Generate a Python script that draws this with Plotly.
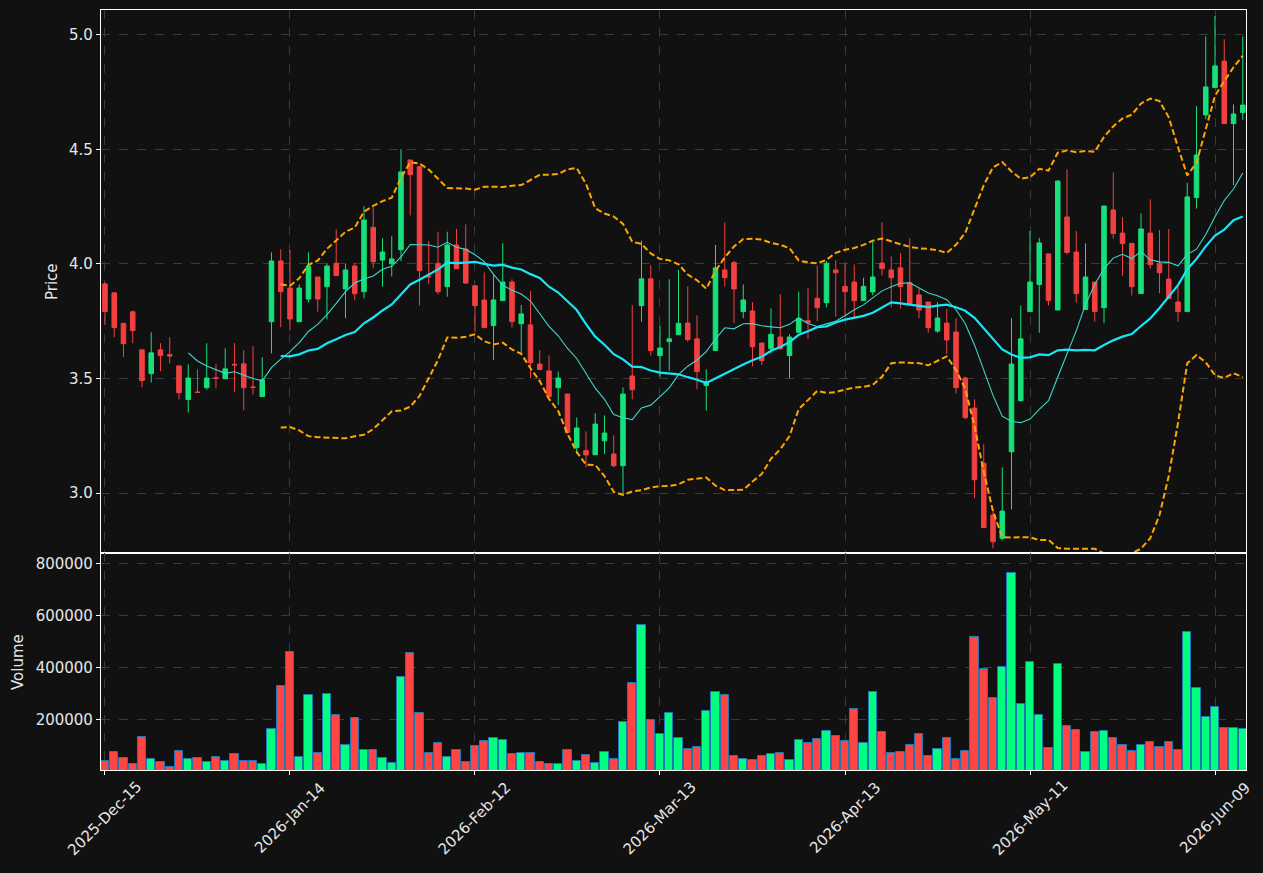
import pandas as pd
import plotly.graph_objects as go

# ---- data ----
opens = [3.913, 3.874, 3.741, 3.791, 3.625, 3.521, 3.625, 3.604, 3.555, 3.408,
         3.441, 3.460, 3.503, 3.499, 3.562, 3.564, 3.463, 3.421, 3.748, 4.013,
         3.895, 3.748, 3.847, 3.943, 3.901, 4.003, 3.891, 3.991, 3.879, 4.160,
         4.017, 4.001, 4.062, 4.454, 4.425, 3.947, 4.003, 3.901, 4.083, 4.065,
         3.905, 3.843, 3.731, 3.840, 3.921, 3.739, 3.734, 3.563, 3.533, 3.460,
         3.432, 3.199, 3.185, 3.167, 3.228, 3.170, 3.119, 3.511, 3.818, 3.935,
         3.600, 3.661, 3.691, 3.742, 3.673, 3.469, 3.622, 3.974, 4.006, 3.792,
         3.795, 3.655, 3.630, 3.681, 3.600, 3.702, 3.752, 3.850, 3.831, 3.974,
         3.902, 3.921, 3.840, 3.878, 4.004, 3.974, 3.983, 3.918, 3.865, 3.834,
         3.707, 3.742, 3.703, 3.502, 3.371, 3.130, 2.904, 2.802, 3.180, 3.403,
         3.792, 3.910, 4.044, 3.799, 4.205, 4.052, 3.801, 3.921, 3.809, 4.236,
         4.135, 4.090, 3.871, 4.135, 4.003, 3.934, 3.834, 3.792, 4.290, 4.651,
         4.770, 4.886, 4.613, 4.661]
highs = [3.919, 3.875, 3.741, 3.796, 3.625, 3.702, 3.654, 3.680, 3.555, 3.562,
         3.540, 3.654, 3.562, 3.632, 3.654, 3.623, 3.641, 3.593, 4.051, 4.064,
         4.061, 3.911, 4.051, 3.943, 4.003, 4.151, 4.003, 4.003, 4.252, 4.247,
         4.112, 4.121, 4.501, 4.454, 4.430, 4.100, 4.141, 4.141, 4.153, 4.173,
         3.905, 3.963, 3.952, 4.090, 3.933, 3.821, 3.882, 3.623, 3.601, 3.530,
         3.432, 3.330, 3.269, 3.349, 3.339, 3.252, 3.461, 3.820, 4.102, 3.994,
         3.731, 3.933, 3.974, 3.902, 3.776, 3.540, 4.083, 4.182, 4.013, 3.911,
         3.833, 3.655, 3.806, 3.868, 3.693, 3.879, 3.894, 3.991, 4.013, 4.017,
         4.003, 3.998, 3.940, 4.105, 4.182, 4.033, 4.047, 4.112, 3.897, 3.834,
         3.833, 3.804, 3.763, 3.508, 3.409, 3.213, 2.926, 3.112, 3.763, 3.819,
         4.144, 4.114, 4.044, 4.365, 4.413, 4.144, 4.090, 3.921, 4.253, 4.400,
         4.204, 4.090, 4.221, 4.282, 4.148, 4.153, 3.904, 4.354, 4.689, 4.994,
         5.083, 4.981, 4.697, 4.994]
lows = [3.734, 3.680, 3.593, 3.654, 3.462, 3.483, 3.532, 3.566, 3.409, 3.352,
        3.438, 3.451, 3.457, 3.499, 3.440, 3.361, 3.430, 3.421, 3.610, 3.724,
        3.709, 3.748, 3.832, 3.792, 3.758, 3.949, 3.763, 3.841, 3.850, 3.981,
        3.901, 3.945, 4.013, 4.212, 3.819, 3.911, 3.867, 3.857, 3.979, 3.913,
        3.704, 3.722, 3.581, 3.840, 3.723, 3.603, 3.501, 3.539, 3.421, 3.384,
        3.258, 3.170, 3.112, 3.167, 3.170, 3.112, 2.991, 3.409, 3.748, 3.600,
        3.508, 3.534, 3.691, 3.661, 3.453, 3.360, 3.622, 3.902, 3.741, 3.763,
        3.553, 3.559, 3.610, 3.625, 3.501, 3.702, 3.672, 3.750, 3.811, 3.770,
        3.777, 3.763, 3.840, 3.863, 3.950, 3.811, 3.805, 3.825, 3.763, 3.700,
        3.700, 3.607, 3.435, 3.322, 2.977, 2.849, 2.758, 2.792, 2.929, 3.399,
        3.792, 3.700, 3.818, 3.799, 4.042, 3.831, 3.801, 3.748, 3.741, 4.111,
        3.949, 3.862, 3.871, 3.980, 3.872, 3.849, 3.748, 3.792, 4.242, 4.632,
        4.770, 4.613, 4.345, 4.629]
closes = [3.792, 3.722, 3.652, 3.709, 3.491, 3.612, 3.600, 3.598, 3.438, 3.502,
          3.439, 3.502, 3.500, 3.542, 3.559, 3.460, 3.461, 3.494, 4.013, 3.879,
          3.760, 3.895, 3.991, 3.847, 3.991, 3.949, 3.974, 3.870, 4.192, 4.010,
          4.052, 4.022, 4.402, 4.390, 3.971, 3.944, 3.879, 4.083, 3.979, 3.917,
          3.818, 3.722, 3.843, 3.921, 3.748, 3.782, 3.569, 3.539, 3.421, 3.502,
          3.264, 3.284, 3.166, 3.301, 3.262, 3.119, 3.432, 3.451, 3.935, 3.622,
          3.633, 3.673, 3.741, 3.670, 3.530, 3.486, 3.983, 3.940, 3.891, 3.843,
          3.639, 3.578, 3.693, 3.630, 3.681, 3.763, 3.745, 3.809, 4.003, 3.962,
          3.879, 3.840, 3.902, 3.943, 3.980, 3.940, 3.901, 3.825, 3.799, 3.722,
          3.764, 3.668, 3.460, 3.329, 3.058, 2.849, 2.787, 2.921, 3.563, 3.673,
          3.921, 4.092, 3.840, 4.362, 4.050, 3.871, 3.943, 3.792, 4.253, 4.133,
          4.089, 3.901, 4.153, 3.997, 3.962, 3.849, 3.792, 4.293, 4.476, 4.773,
          4.865, 4.613, 4.655, 4.694]
volumes = [38350, 72960, 49900, 26800, 130650, 46050, 34500, 15300, 76800, 46050,
           49900, 34500, 53740, 38350, 65300, 38350, 38350, 26800, 161400, 326800,
           457700, 53740, 292300, 69100, 296150, 215270, 99900, 203700, 80660, 80660,
           49900, 30660, 361400, 453800, 222960, 69100, 107580, 53740, 80660, 34500,
           96040, 115270, 126800, 119120, 65300, 69100, 69100, 34500, 26800, 26800,
           80660, 38350, 61430, 30660, 72960, 46050, 188350, 338340, 561400, 196040,
           142200, 222960, 126800, 84500, 92200, 230650, 303700, 292200, 57580, 46050,
           42200, 57580, 65300, 69100, 42200, 119120, 107580, 122960, 153730, 134500,
           115270, 238350, 107580, 303700, 149890, 69100, 72960, 99900, 142200, 57580,
           84500, 126800, 46050, 76800, 515250, 392180, 280650, 399880, 761400, 257570,
           419100, 215270, 88350, 411420, 172960, 157580, 72960, 149890, 153730, 126800,
           99900, 76800, 99900, 111430, 92200, 111430, 80660, 534480, 319110, 207580,
           246040, 165270, 165270, 161400]
tick_positions = [0, 20, 40, 60, 80, 100, 120]
tick_labels = ["2025-Dec-15", "2026-Jan-14", "2026-Feb-12", "2026-Mar-13",
               "2026-Apr-13", "2026-May-11", "2026-Jun-09"]

# ---- derived indicators ----
idx = list(range(len(closes)))
cs = pd.Series(closes)
ma10 = cs.rolling(10).mean()
ma20 = cs.rolling(20).mean()
sd20 = cs.rolling(20).std()
bb_up = ma20 + 2 * sd20
bb_lo = ma20 - 2 * sd20

BG = "#111111"
C_UP = "#16e07a"
C_DN = "#f24040"
V_UP = "#00ff80"
V_DN = "#ff4444"
FONT = "DejaVu Sans"
TXT = "#e6e6e6"

fig = go.Figure()

fig.add_trace(go.Candlestick(
    x=idx, open=opens, high=highs, low=lows, close=closes,
    increasing=dict(line=dict(color=C_UP, width=1), fillcolor=C_UP),
    decreasing=dict(line=dict(color=C_DN, width=1), fillcolor=C_DN),
    whiskerwidth=0, showlegend=False, xaxis="x", yaxis="y"))

fig.add_trace(go.Scatter(x=idx, y=bb_up, mode="lines",
                         line=dict(color="#ffa500", width=2, dash="6px,3px"),
                         showlegend=False, xaxis="x", yaxis="y"))
fig.add_trace(go.Scatter(x=idx, y=bb_lo, mode="lines",
                         line=dict(color="#ffa500", width=2, dash="6px,3px"),
                         showlegend=False, xaxis="x", yaxis="y"))
fig.add_trace(go.Scatter(x=idx, y=ma10, mode="lines",
                         line=dict(color="#40d8cc", width=1.1),
                         showlegend=False, xaxis="x", yaxis="y"))
fig.add_trace(go.Scatter(x=idx, y=ma20, mode="lines",
                         line=dict(color="#18e6f8", width=2.2),
                         showlegend=False, xaxis="x", yaxis="y"))

vcolors = [V_UP if c >= o else V_DN for o, c in zip(opens, closes)]
fig.add_trace(go.Bar(x=idx, y=volumes, marker=dict(color=vcolors,
                     line=dict(color="#1f77b4", width=1)),
                     width=0.88, showlegend=False, xaxis="x2", yaxis="y2"))

split = (770 - 553) / 760.0
xr = [-0.43, 123.35]
grid = dict(showgrid=True, gridcolor="#3a3a3a", griddash="dash", gridwidth=1)
axline = dict(showline=True, linecolor="white", linewidth=1.2, mirror=True)

annotations = [
    dict(text="Price", xref="paper", yref="paper", x=(52 - 101) / 1145.0,
         y=(770 - 282) / 760.0, xanchor="center", yanchor="middle",
         textangle=-90, showarrow=False, font=dict(size=15, color=TXT)),
    dict(text="Volume", xref="paper", yref="paper", x=(18 - 101) / 1145.0,
         y=(770 - 662) / 760.0, xanchor="center", yanchor="middle",
         textangle=-90, showarrow=False, font=dict(size=15, color=TXT)),
]
for pos, lab in zip(tick_positions, tick_labels):
    annotations.append(dict(text=lab, xref="x2", yref="paper", x=pos,
                            y=(770 - 818) / 760.0, xanchor="center", yanchor="middle",
                            textangle=-45, showarrow=False,
                            font=dict(size=15, color=TXT)))

fig.update_layout(
    width=1263, height=873,
    paper_bgcolor=BG, plot_bgcolor=BG,
    margin=dict(l=101, r=17, t=10, b=103),
    font=dict(family=FONT, size=15, color=TXT),
    boxgap=0.3,
    bargap=0,
    xaxis=dict(domain=[0, 1], range=xr, anchor="y", rangeslider=dict(visible=False),
               tickvals=tick_positions, ticktext=tick_labels, showticklabels=False,
               ticks="", zeroline=False, **grid, **axline),
    yaxis=dict(domain=[split, 1], range=[2.738, 5.109], anchor="x",
               tickvals=[3.0, 3.5, 4.0, 4.5, 5.0], ticktext=["3.0", "3.5", "4.0", "4.5", "5.0"],
               ticks="outside", ticklen=4, tickcolor="white", zeroline=False,
               **grid, **axline),
    xaxis2=dict(domain=[0, 1], range=xr, anchor="y2", matches="x",
                tickvals=tick_positions, ticktext=tick_labels, showticklabels=False,
                ticks="outside", ticklen=4, tickcolor="white", zeroline=False,
                **grid, **axline),
    yaxis2=dict(domain=[0, split], range=[5000, 839600], anchor="x2",
                tickvals=[200000, 400000, 600000, 800000],
                ticktext=["200000", "400000", "600000", "800000"],
                ticks="outside", ticklen=4, tickcolor="white", zeroline=False,
                **grid, **axline),
    annotations=annotations,
)

fig.write_html("out.html")
